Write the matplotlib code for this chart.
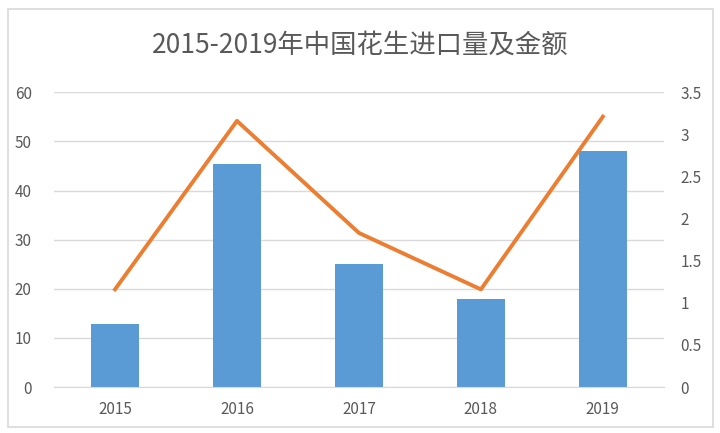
import matplotlib.pyplot as plt
from matplotlib.patches import Rectangle

plt.rcParams['font.family'] = ['Noto Sans CJK SC', 'DejaVu Sans']

years = ['2015', '2016', '2017', '2018', '2019']
volume = [12.9, 45.3, 25.1, 18.0, 48.0]      # 进口量 (左轴)
amount = [1.16, 3.16, 1.83, 1.16, 3.21]      # 金额 (右轴)
left_ticks = [0, 10, 20, 30, 40, 50, 60]
right_ticks = [0, 0.5, 1, 1.5, 2, 2.5, 3, 3.5]
right_labels = ['0', '0.5', '1', '1.5', '2', '2.5', '3', '3.5']

text_color = '#595959'
grid_color = '#D9D9D9'

fig = plt.figure(figsize=(7.2, 4.33), dpi=100)
fig.patches.append(Rectangle((8 / 720, 6 / 433), 705 / 720, 418 / 433,
                             transform=fig.transFigure, fill=False,
                             edgecolor=grid_color, linewidth=1.2))

ax = fig.add_axes([0.075, 0.106, 0.847, 0.681])
x = range(len(years))
ax.bar(x, volume, width=0.39, color='#5B9BD5', zorder=2)
ax.set_xlim(-0.5, 4.5)
ax.set_ylim(0, 60)
ax.set_yticks(left_ticks)
ax.set_xticks(list(x))
ax.set_xticklabels(years)
ax.grid(axis='y', color=grid_color, linewidth=1, zorder=0)
for s in ['top', 'left', 'right']:
    ax.spines[s].set_visible(False)
ax.spines['bottom'].set_color(grid_color)
ax.tick_params(axis='both', length=0, labelsize=11, colors=text_color)
ax.tick_params(axis='x', pad=10)
ax.tick_params(axis='y', pad=16)

ax2 = ax.twinx()
ax2.plot(list(x), amount, color='#ED7D31', linewidth=2.8, zorder=3)
ax2.set_ylim(0, 3.5)
ax2.set_yticks(right_ticks)
ax2.set_yticklabels(right_labels)
for s in ['top', 'left', 'right', 'bottom']:
    ax2.spines[s].set_visible(False)
ax2.tick_params(axis='y', length=0, labelsize=11, colors=text_color, pad=12)

fig.text(0.5, 0.895, '2015-2019年中国花生进口量及金额', ha='center', va='center',
         fontsize=19, color=text_color)

fig.savefig('out.png', dpi=100)
